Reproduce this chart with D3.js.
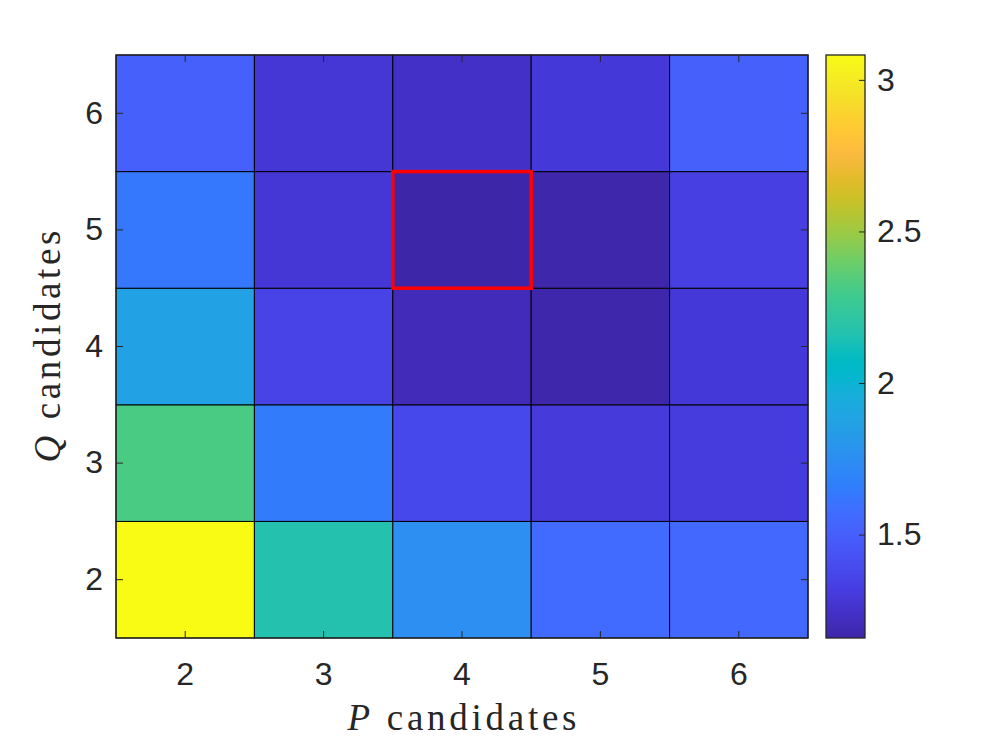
<!DOCTYPE html>
<html>
<head>
<meta charset="utf-8">
<script src="https://cdn.jsdelivr.net/npm/d3@7"></script>
<style>
  body { margin: 0; background: #fff; }
  svg { display: block; }
  .tick text { font-family: "Liberation Sans", Arial, sans-serif; fill: #262626; }
  .tick line { stroke: #262626; }
</style>
</head>
<body>
<svg width="997" height="747"></svg>
<script>
// grid values, one row per Q candidate, columns are P = 2..6
var pCandidates = [2, 3, 4, 5, 6];
var qCandidates = [2, 3, 4, 5, 6];
var rowQ2 = [3.082, 2.167, 1.755, 1.56, 1.55];
var rowQ3 = [2.32, 1.65, 1.38, 1.30, 1.31];
var rowQ4 = [1.87, 1.35, 1.20, 1.17, 1.29];
var rowQ5 = [1.63, 1.28, 1.159, 1.17, 1.33];
var rowQ6 = [1.51, 1.28, 1.24, 1.29, 1.51];
var colorbarTicks = [1.5, 2, 2.5, 3];
var bestP = 4, bestQ = 5;

// parula (64)
var parula = [
  [0.2422,0.1504,0.6603],[0.2504,0.1650,0.7076],[0.2578,0.1818,0.7511],[0.2647,0.1978,0.7952],
  [0.2706,0.2147,0.8364],[0.2751,0.2342,0.8710],[0.2783,0.2559,0.8991],[0.2803,0.2782,0.9221],
  [0.2813,0.3006,0.9414],[0.2810,0.3228,0.9579],[0.2795,0.3447,0.9717],[0.2760,0.3667,0.9829],
  [0.2699,0.3892,0.9906],[0.2602,0.4123,0.9952],[0.2440,0.4358,0.9988],[0.2206,0.4603,0.9973],
  [0.1963,0.4847,0.9892],[0.1834,0.5074,0.9798],[0.1786,0.5289,0.9682],[0.1764,0.5499,0.9520],
  [0.1687,0.5703,0.9359],[0.1540,0.5902,0.9218],[0.1460,0.6091,0.9079],[0.1380,0.6276,0.8973],
  [0.1248,0.6459,0.8883],[0.1113,0.6635,0.8763],[0.0952,0.6798,0.8598],[0.0689,0.6948,0.8394],
  [0.0297,0.7082,0.8163],[0.0036,0.7203,0.7917],[0.0067,0.7312,0.7660],[0.0433,0.7411,0.7394],
  [0.0964,0.7500,0.7120],[0.1408,0.7584,0.6842],[0.1717,0.7670,0.6554],[0.1938,0.7758,0.6251],
  [0.2161,0.7843,0.5923],[0.2470,0.7918,0.5567],[0.2906,0.7973,0.5188],[0.3406,0.8008,0.4789],
  [0.3909,0.8029,0.4354],[0.4456,0.8024,0.3909],[0.5044,0.7993,0.3480],[0.5616,0.7942,0.3045],
  [0.6174,0.7876,0.2612],[0.6720,0.7793,0.2227],[0.7242,0.7698,0.1910],[0.7738,0.7598,0.1646],
  [0.8203,0.7498,0.1535],[0.8634,0.7406,0.1596],[0.9035,0.7330,0.1774],[0.9393,0.7288,0.2100],
  [0.9728,0.7298,0.2394],[0.9956,0.7434,0.2371],[0.9970,0.7659,0.2199],[0.9952,0.7893,0.2028],
  [0.9892,0.8136,0.1885],[0.9786,0.8386,0.1766],[0.9676,0.8639,0.1643],[0.9610,0.8890,0.1537],
  [0.9597,0.9135,0.1423],[0.9628,0.9373,0.1265],[0.9691,0.9606,0.1064],[0.9769,0.9839,0.0805]
].map(function(c) { return d3.rgb(c[0]*255, c[1]*255, c[2]*255).formatHex(); });

var rows = {2: rowQ2, 3: rowQ3, 4: rowQ4, 5: rowQ5, 6: rowQ6};
var cells = [];
qCandidates.forEach(function(q) {
  pCandidates.forEach(function(p, i) {
    cells.push({p: p, q: q, v: rows[q][i]});
  });
});

var vmin = d3.min(cells, function(d) { return d.v; });
var vmax = d3.max(cells, function(d) { return d.v; });

var svg = d3.select("svg");
var margin = {top: 55, left: 116};
var width = 692, height = 583;

var xScale = d3.scaleBand().domain(pCandidates).range([0, width]);
var yScale = d3.scaleBand().domain(qCandidates.slice().reverse()).range([0, height]);
var color = d3.scaleLinear()
    .domain(parula.map(function(d, i) { return vmin + i / (parula.length - 1) * (vmax - vmin); }))
    .range(parula)
    .clamp(true);

var g = svg.append("g")
    .attr("transform", "translate(" + margin.left + "," + margin.top + ")");

g.selectAll("rect.cell")
  .data(cells)
  .enter().append("rect")
    .attr("class", "cell")
    .attr("x", function(d) { return xScale(d.p); })
    .attr("y", function(d) { return yScale(d.q); })
    .attr("width", xScale.bandwidth())
    .attr("height", yScale.bandwidth())
    .attr("fill", function(d) { return color(d.v); })
    .attr("stroke", "#000")
    .attr("stroke-width", 1);

// highlight of the best pair
g.append("rect")
    .attr("x", xScale(bestP))
    .attr("y", yScale(bestQ))
    .attr("width", xScale.bandwidth())
    .attr("height", yScale.bandwidth())
    .attr("fill", "none")
    .attr("stroke", "#ff0000")
    .attr("stroke-width", 3.5);

var fs = 32;

var xAxis = g.append("g")
    .attr("transform", "translate(0," + height + ")")
    .call(d3.axisBottom(xScale).tickSizeInner(-7).tickSizeOuter(0).tickPadding(24));
var yAxis = g.append("g")
    .call(d3.axisLeft(yScale).tickSizeInner(-7).tickSizeOuter(0).tickPadding(13));
g.append("g")
    .call(d3.axisTop(xScale).tickSizeInner(-7).tickSizeOuter(0).tickFormat(""));
g.append("g")
    .attr("transform", "translate(" + width + ",0)")
    .call(d3.axisRight(yScale).tickSizeInner(-7).tickSizeOuter(0).tickFormat(""));

g.selectAll(".domain").remove();
g.selectAll(".tick text").style("font-size", fs + "px");

g.append("rect")
    .attr("width", width)
    .attr("height", height)
    .attr("fill", "none")
    .attr("stroke", "#262626")
    .attr("stroke-width", 1.3);

// colorbar
var cbX = 826, cbW = 39;
var cbScale = d3.scaleLinear().domain([vmin, vmax]).range([margin.top + height, margin.top]);

var grad = svg.append("defs").append("linearGradient")
    .attr("id", "cbgrad")
    .attr("x1", 0).attr("y1", 1).attr("x2", 0).attr("y2", 0);
grad.selectAll("stop")
  .data(parula)
  .enter().append("stop")
    .attr("offset", function(d, i) { return i / (parula.length - 1); })
    .attr("stop-color", function(d) { return d; });

svg.append("rect")
    .attr("x", cbX)
    .attr("y", margin.top)
    .attr("width", cbW)
    .attr("height", height)
    .attr("fill", "url(#cbgrad)")
    .attr("stroke", "#262626")
    .attr("stroke-width", 1.3);

var cbAxis = svg.append("g")
    .attr("transform", "translate(" + (cbX + cbW) + ",0)")
    .call(d3.axisRight(cbScale).tickValues(colorbarTicks).tickFormat(d3.format("")).tickSizeInner(-6).tickSizeOuter(0).tickPadding(12));
cbAxis.select(".domain").remove();
cbAxis.selectAll(".tick text").style("font-size", fs + "px");

// axis labels (latex style)
svg.append("text")
    .attr("x", margin.left + width / 2)
    .attr("y", 730)
    .attr("text-anchor", "middle")
    .attr("textLength", 229)
    .attr("lengthAdjust", "spacing")
    .style("font-family", "'Liberation Serif', 'DejaVu Serif', serif")
    .style("font-size", "37px")
    .attr("fill", "#262626")
    .html("<tspan font-style='italic'>P</tspan> candidates");

svg.append("text")
    .attr("transform", "translate(60," + (margin.top + height / 2) + ") rotate(-90)")
    .attr("text-anchor", "middle")
    .attr("textLength", 232)
    .attr("lengthAdjust", "spacing")
    .style("font-family", "'Liberation Serif', 'DejaVu Serif', serif")
    .style("font-size", "37px")
    .attr("fill", "#262626")
    .html("<tspan font-style='italic'>Q</tspan> candidates");
</script>
</body>
</html>
